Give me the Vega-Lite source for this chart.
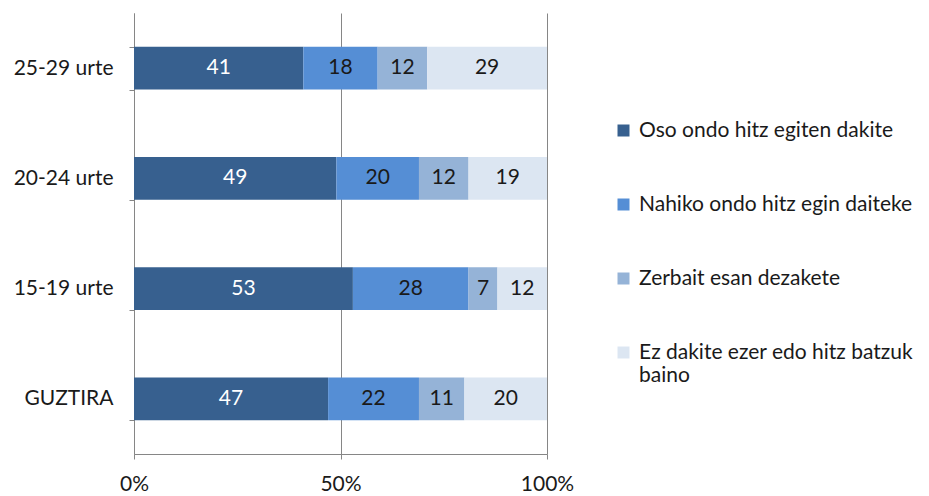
{
  "$schema": "https://vega.github.io/schema/vega-lite/v6.json",
  "width": 413,
  "height": 441,
  "autosize": {"type": "none"},
  "padding": {"left": 134, "top": 13, "right": 382, "bottom": 42},
  "background": "white",
  "config": {
    "view": {"stroke": null},
    "font": "Lato",
    "text": {"font": "Lato"}
  },
  "data": {
    "values": [
      {"grp": "25-29 urte", "cat": "Oso ondo hitz egiten dakite", "ord": 0, "v": 41},
      {"grp": "25-29 urte", "cat": "Nahiko ondo hitz egin daiteke", "ord": 1, "v": 18},
      {"grp": "25-29 urte", "cat": "Zerbait esan dezakete", "ord": 2, "v": 12},
      {"grp": "25-29 urte", "cat": "Ez dakite ezer edo hitz batzuk baino", "ord": 3, "v": 29},
      {"grp": "20-24 urte", "cat": "Oso ondo hitz egiten dakite", "ord": 0, "v": 49},
      {"grp": "20-24 urte", "cat": "Nahiko ondo hitz egin daiteke", "ord": 1, "v": 20},
      {"grp": "20-24 urte", "cat": "Zerbait esan dezakete", "ord": 2, "v": 12},
      {"grp": "20-24 urte", "cat": "Ez dakite ezer edo hitz batzuk baino", "ord": 3, "v": 19},
      {"grp": "15-19 urte", "cat": "Oso ondo hitz egiten dakite", "ord": 0, "v": 53},
      {"grp": "15-19 urte", "cat": "Nahiko ondo hitz egin daiteke", "ord": 1, "v": 28},
      {"grp": "15-19 urte", "cat": "Zerbait esan dezakete", "ord": 2, "v": 7},
      {"grp": "15-19 urte", "cat": "Ez dakite ezer edo hitz batzuk baino", "ord": 3, "v": 12},
      {"grp": "GUZTIRA", "cat": "Oso ondo hitz egiten dakite", "ord": 0, "v": 47},
      {"grp": "GUZTIRA", "cat": "Nahiko ondo hitz egin daiteke", "ord": 1, "v": 22},
      {"grp": "GUZTIRA", "cat": "Zerbait esan dezakete", "ord": 2, "v": 11},
      {"grp": "GUZTIRA", "cat": "Ez dakite ezer edo hitz batzuk baino", "ord": 3, "v": 20}
    ]
  },
  "transform": [
    {"stack": "v", "groupby": ["grp"], "sort": [{"field": "ord", "order": "ascending"}], "as": ["x0", "x1"]},
    {"calculate": "(datum.x0 + datum.x1) / 2", "as": "xm"}
  ],
  "encoding": {
    "y": {
      "field": "grp",
      "type": "nominal",
      "sort": ["25-29 urte", "20-24 urte", "15-19 urte", "GUZTIRA"],
      "scale": {"paddingInner": 0.61, "paddingOuter": 0.305},
      "axis": {
        "title": null,
        "domainColor": "#868686",
        "tickColor": "#868686",
        "tickBand": "extent",
        "tickSize": 5,
        "labelFontSize": 21,
        "labelColor": "#1a1a1a",
        "labelPadding": 16,
        "labelFont": "Lato"
      }
    }
  },
  "layer": [
    {
      "mark": {"type": "bar"},
      "encoding": {
        "x": {
          "field": "x0",
          "type": "quantitative",
          "scale": {"domain": [0, 100], "nice": false},
          "axis": {
            "title": null,
            "values": [0, 50, 100],
            "labelExpr": "datum.value + '%'",
            "grid": true,
            "gridColor": "#868686",
            "domainColor": "#868686",
            "tickColor": "#868686",
            "tickSize": 5,
            "labelFontSize": 21,
            "labelColor": "#1a1a1a",
            "labelPadding": 14,
            "labelFont": "Lato",
            "labelFlush": false
          }
        },
        "x2": {"field": "x1"},
        "color": {
          "field": "cat",
          "type": "nominal",
          "sort": {"field": "ord"},
          "scale": {
            "domain": ["Oso ondo hitz egiten dakite", "Nahiko ondo hitz egin daiteke", "Zerbait esan dezakete", "Ez dakite ezer edo hitz batzuk baino"],
            "range": ["#37608F", "#558ED5", "#95B3D7", "#DCE6F2"]
          },
          "legend": {
            "title": null,
            "orient": "none",
            "legendX": 479,
            "legendY": 107,
            "symbolType": "square",
            "symbolSize": 144,
            "symbolStrokeWidth": 0,
            "labelFontSize": 21,
            "labelFont": "Lato",
            "labelColor": "#1a1a1a",
            "labelLimit": 400,
            "rowPadding": 52,
            "labelOffset": 5,
            "padding": 0,
            "labelExpr": "datum.label == 'Ez dakite ezer edo hitz batzuk baino' ? ['Ez dakite ezer edo hitz batzuk', 'baino'] : datum.label"
          }
        }
      }
    },
    {
      "mark": {"type": "text", "fontSize": 21, "font": "Lato"},
      "encoding": {
        "x": {"field": "xm", "type": "quantitative"},
        "text": {"field": "v", "type": "quantitative"},
        "color": {
          "condition": {"test": "datum.ord == 0", "value": "white"},
          "value": "#1a1a1a"
        }
      }
    }
  ]
}
